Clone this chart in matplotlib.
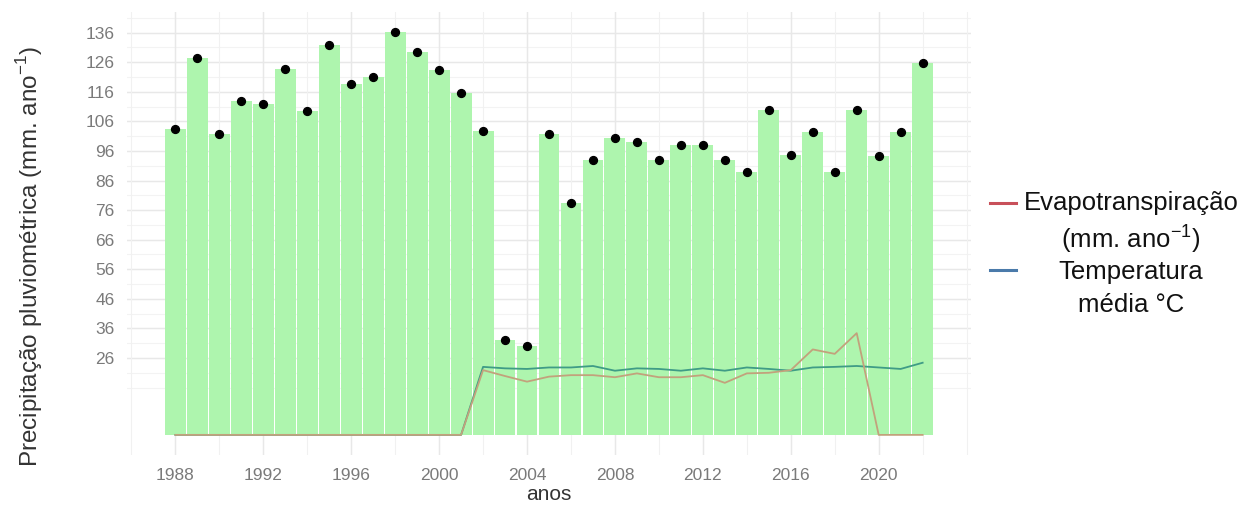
import matplotlib
matplotlib.use("Agg")
import matplotlib.pyplot as plt
from matplotlib.lines import Line2D
import numpy as np

plt.rcParams['font.family'] = ['Liberation Sans', 'DejaVu Sans']
plt.rcParams['mathtext.fontset'] = 'custom'
plt.rcParams['mathtext.rm'] = 'Liberation Sans'

# dados
anos = list(range(1988, 2023))
precipitacao = [103.3, 127.6, 101.8, 112.8, 111.8, 123.7, 109.5, 131.9, 118.6, 121.0,
                136.2, 129.5, 123.3, 115.7, 102.8, 32.0, 30.0, 101.8, 78.5, 92.8,
                100.3, 99.0, 92.8, 97.9, 97.9, 92.8, 89.0, 110.0, 94.8, 102.3,
                89.0, 110.0, 94.2, 102.3, 125.7]
temperatura = [0] * 14 + [23.0, 22.5, 22.3, 22.8, 22.8, 23.3, 21.7, 22.5, 22.3, 21.7,
                          22.5, 21.7, 22.8, 22.3, 21.7, 22.8, 23.0, 23.3, 22.8, 22.3, 24.4]
evapotranspiracao = [0] * 14 + [21.9, 19.9, 18.0, 19.7, 20.2, 20.2, 19.5, 20.8, 19.5, 19.5,
                                20.2, 17.6, 20.8, 21.0, 21.9, 28.9, 27.4, 34.4, 0, 0, 0]

y_breaks = list(range(26, 137, 10))
x_breaks = list(range(1988, 2021, 4))
sup = r'$^{\mathregular{-1}}$'

fig = plt.figure(figsize=(12.58, 5.07), dpi=100)
ax = fig.add_axes([127 / 1258, 1 - 455 / 507, 844 / 1258, 443 / 507])

# grade estilo theme_minimal
for v in np.arange(16, 142, 5):
    ax.axhline(v, color='#f3f3f3', lw=0.8, zorder=0)
for v in y_breaks:
    ax.axhline(v, color='#e8e8e8', lw=1.0, zorder=0)
for v in range(1986, 2025, 2):
    ax.axvline(v, color='#f1f1f1', lw=0.8, zorder=0)
for v in x_breaks:
    ax.axvline(v, color='#e8e8e8', lw=1.0, zorder=0)

ax.bar(anos, precipitacao, width=0.95, color='#aef5ae', zorder=2)
ax.scatter(anos, precipitacao, s=32, color='black', zorder=5)

ax.plot(anos, temperatura, color='#3f9c86', lw=1.3, zorder=3)
ax.plot(anos, evapotranspiracao, color='#c2a27c', lw=1.3, zorder=4)

ax.set_xlim(1985.8, 2024.2)
ax.set_ylim(-6.8, 143)
ax.set_yticks(y_breaks)
ax.set_xticks(x_breaks)
ax.tick_params(length=0, labelsize=12.5, labelcolor='#7a7a7a', pad=9)
for s in ax.spines.values():
    s.set_visible(False)

ax.set_xlabel('anos', fontsize=15, color='#333333', labelpad=2)
ax.set_ylabel('Precipitação pluviométrica (mm. ano' + sup + ')', fontsize=17.5,
              color='#333333')
ax.yaxis.set_label_coords(-0.097, 0.447)

# legenda desenhada a mao
fig.add_artist(Line2D([990 / 1258, 1016 / 1258], [1 - 203 / 507, 1 - 203 / 507],
                      color='#c8505a', lw=2.2))
fig.add_artist(Line2D([990 / 1258, 1016 / 1258], [1 - 270 / 507, 1 - 270 / 507],
                      color='#4a7aaa', lw=2.2))
fig.text(1131 / 1258, 1 - 203 / 507, 'Evapotranspiração', fontsize=18.5, ha='center',
         va='center', color='#111111')
fig.text(1131 / 1258, 1 - 239 / 507, '(mm. ano' + sup + ')', fontsize=18.5,
         ha='center', va='center', color='#111111')
fig.text(1131 / 1258, 1 - 272 / 507, 'Temperatura', fontsize=18.5, ha='center',
         va='center', color='#111111')
fig.text(1131 / 1258, 1 - 305 / 507, 'média °C', fontsize=18.5, ha='center',
         va='center', color='#111111')

fig.savefig('out.png', dpi=100)
